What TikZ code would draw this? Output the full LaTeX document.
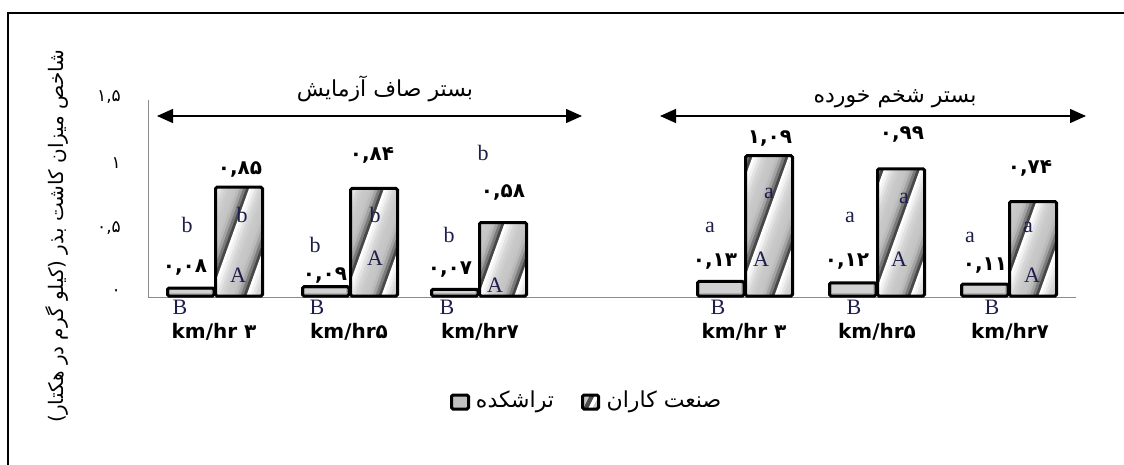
\documentclass[tikz,border=0pt]{standalone}
\usepackage{fontspec}
\usetikzlibrary{arrows.meta}
\setmainfont{Liberation Serif}
\newfontfamily\fa[Script=Arabic]{DejaVu Sans}
\newfontfamily\nm{DejaVu Sans}
\TeXXeTstate=1
\definecolor{lbl}{RGB}{30,30,75}
\definecolor{axisgray}{RGB}{140,140,140}
\tikzset{
  barline/.style={draw=black,line width=3pt,rounded corners=1.5pt},
  bfill/.style={fill=black!30},
  ltr/.style={font=\fontsize{22}{24}\selectfont,text=lbl,inner sep=0pt},
  valb/.style={font=\nm\bfseries\fontsize{20}{22}\selectfont,inner sep=0pt},
  tick/.style={font=\nm\fontsize{17}{19}\selectfont,inner sep=0pt,anchor=east},
  cat/.style={font=\nm\bfseries\fontsize{20}{22}\selectfont,inner sep=0pt},
  fatext/.style={font=\fa\fontsize{22}{24}\selectfont,inner sep=0pt},
  dblarrow/.style={line width=1.4pt,{Triangle[length=16pt,width=14pt]}-{Triangle[length=16pt,width=14pt]}},
}
% #1 center x, #2 value B, #3 value A, #4 phase
\newcommand\barpair[4]{%
  \pgfmathsetmacro\tb{297-131*#2+1.5}%
  \pgfmathsetmacro\ta{297-131*#3+1.5}%
  \fill[bfill] (#1-46.5,296) rectangle (#1,\tb);
  \fill[black!18] (#1-44,293) rectangle (#1-3,{\tb+2});
  \begin{scope}
    \clip (#1+1.5,296) rectangle (#1+48.5,\ta);
    \fill[black!22] (#1,297) rectangle (#1+50,\ta);
    \foreach \k in {0,...,4}{%
      \foreach \sh [count=\j from 0] in {0,5,11,16,19,21,22,23,27,36,52,72}{%
        \fill[black!\sh] ({#1-80+#4+\k*36+\j*3},297) -- ++(3.4,0) -- ++(72,-200) -- ++(-3.4,0) -- cycle;
      }}
  \end{scope}
  \draw[barline] (#1-46.5,296) rectangle (#1,\tb);
  \draw[barline] (#1+1.5,296) rectangle (#1+48.5,\ta);
}
\begin{document}
\begin{tikzpicture}[x=1pt,y=-1pt]
\useasboundingbox (0,0) rectangle (1124,464);
\fill[white] (0,0) rectangle (1124,464);
\draw[line width=2.5pt] (8,13) rectangle (1140,480);

% axes
\draw[axisgray,line width=1pt] (148,100) -- (148,297) -- (1076,297);

% tick labels
\node[tick] (t0) at (121,293) {۰};
\node[tick] (t05) at (121,228) {۰,۵};
\node[tick] (t1) at (121,163) {۱};
\node[tick] (t15) at (121,97) {۱,۵};

% y title
\node[fatext,rotate=90,font=\fa\fontsize{20}{22}\selectfont] (ytitle) at (57,236) {\beginR شاخص میزان کاشت بذر (کیلو گرم در هکتار)\endR};

% group arrows
\coordinate (a1l) at (157,116);
\coordinate (a1r) at (582,116);
\coordinate (a2l) at (660,116);
\coordinate (a2r) at (1086,116);
\draw[dblarrow] (a1l) -- (a1r);
\draw[dblarrow] (a2l) -- (a2r);
\node[fatext] (g1) at (385,89) {\beginR بستر صاف آزمایش\endR};
\node[fatext] (g2) at (895,99) {\beginR بستر شخم خورده\endR};

% bars
\barpair{214}{0.08}{0.85}{4}
\barpair{349}{0.09}{0.84}{4}
\barpair{478}{0.07}{0.58}{8}
\barpair{744}{0.13}{1.09}{2}
\barpair{876}{0.12}{0.99}{6}
\barpair{1008}{0.11}{0.74}{2}

% value labels
\node[valb] (vb1) at (185,268) {۰,۰۸};
\node[valb] (va1) at (240,169) {۰,۸۵};
\node[valb] (vb2) at (325,276) {۰,۰۹};
\node[valb] (va2) at (372,155) {۰,۸۴};
\node[valb] (vb3) at (450,270) {۰,۰۷};
\node[valb] (va3) at (503,192) {۰,۵۸};
\node[valb] (vb4) at (715,262) {۰,۱۳};
\node[valb] (va4) at (770,139) {۱,۰۹};
\node[valb] (vb5) at (847,262) {۰,۱۲};
\node[valb] (va5) at (902,135) {۰,۹۹};
\node[valb] (vb6) at (985,266) {۰,۱۱};
\node[valb] (va6) at (1030,168) {۰,۷۴};

% letters
\node[ltr] (lb1) at (187,225) {b};
\node[ltr] (la1) at (242,215) {b};
\node[ltr] (cA1) at (238,275) {A};
\node[ltr] (cB1) at (180,307) {B};
\node[ltr] (lb2) at (315,245) {b};
\node[ltr] (la2) at (375,215) {b};
\node[ltr] (cA2) at (375,258) {A};
\node[ltr] (cB2) at (317,307) {B};
\node[ltr] (lb3) at (449,235) {b};
\node[ltr] (la3) at (483,153) {b};
\node[ltr] (cA3) at (495,285) {A};
\node[ltr] (cB3) at (447,307) {B};
\node[ltr] (lb4) at (710,227) {a};
\node[ltr] (la4) at (769,193) {a};
\node[ltr] (cA4) at (761,259) {A};
\node[ltr] (cB4) at (718,307) {B};
\node[ltr] (lb5) at (850,217) {a};
\node[ltr] (la5) at (904,198) {a};
\node[ltr] (cA5) at (899,259) {A};
\node[ltr] (cB5) at (854,307) {B};
\node[ltr] (lb6) at (970,237) {a};
\node[ltr] (la6) at (1028,227) {a};
\node[ltr] (cA6) at (1032,275) {A};
\node[ltr] (cB6) at (992,307) {B};

% category labels
\node[cat] (k1) at (214,332) {km/hr ۳};
\node[cat] (k2) at (349,332) {km/hr۵};
\node[cat] (k3) at (480,332) {km/hr۷};
\node[cat] (k4) at (744,332) {km/hr ۳};
\node[cat] (k5) at (877,332) {km/hr۵};
\node[cat] (k6) at (1010,332) {km/hr۷};

% legend
\draw[barline,fill=black!25] (451.5,395) rectangle (468.5,409);
\node[fatext] (lg1) at (515,402) {\beginR تراشکده\endR};
\begin{scope}
  \clip (582.5,395) rectangle (598.5,409);
  \fill[black!22] (582,395) rectangle (599,409);
  \fill[black!70] (583,409) -- (588,409) -- (595,395) -- (590,395) -- cycle;
  \fill[white] (588,409) -- (592,409) -- (599,395) -- (595,395) -- cycle;
\end{scope}
\draw[barline] (582.5,395) rectangle (598.5,409);
\node[fatext] (lg2) at (664,402) {\beginR صنعت کاران\endR};
\end{tikzpicture}
\end{document}
